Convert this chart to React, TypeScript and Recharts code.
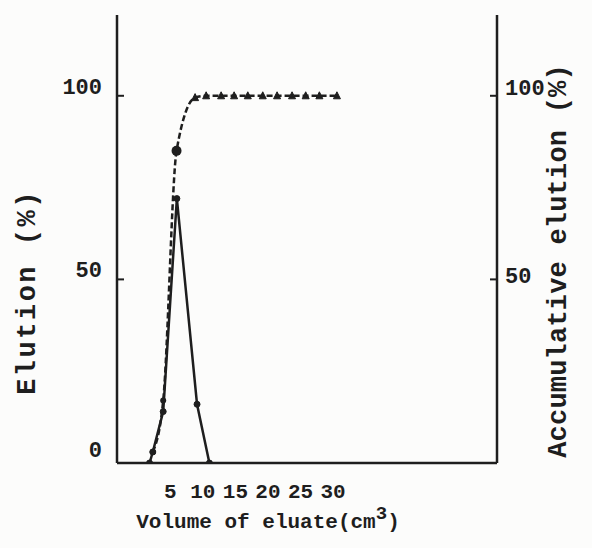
import { LineChart, Line, XAxis, YAxis, Label } from "recharts";

// values (volume in cm3, elution in %)
const elutionVolume = [1.8, 2.3, 3.9, 6.0, 9.1, 11.0];
const elutionPct = [0, 3, 14, 72, 16, 0];

const cumVolume = [2.3, 3.9, 5.95, 8.8, 10.5, 12.8, 14.8, 16.9, 19.2, 21.4, 23.7, 25.8, 27.9, 30.6];
const cumPct = [3, 17, 85, 99.5, 100, 100, 100, 100, 100, 100, 100, 100, 100, 100];

const xTicks = [5, 10, 15, 20, 25, 30];
const leftTicks = [0, 50, 100];
const rightTicks = [50, 100];

const INK = "#1e1e1e";
const FONT = "'Liberation Mono', 'DejaVu Sans Mono', monospace";

const elution = elutionVolume.map((x, i) => ({ x, y: elutionPct[i] }));
const cumulative = cumVolume.map((x, i) => ({ x, y: cumPct[i] }));

function LeftTick({ x, y, payload }: any) {
  return (
    <g>
      {payload.value !== 0 && (
        <line x1={x + 15} x2={x + 22} y1={y} y2={y} stroke={INK} strokeWidth={2} />
      )}
      <text x={x} y={y} dy={payload.value === 0 ? -6 : -2} textAnchor="end" fill={INK}
        fontFamily={FONT} fontWeight="bold" fontSize={22}>
        {payload.value}
      </text>
    </g>
  );
}

function RightTick({ x, y, payload }: any) {
  return (
    <g>
      <line x1={x - 15} x2={x - 8} y1={y} y2={y} stroke={INK} strokeWidth={2} />
      <text x={x} y={y} dy={payload.value === 100 ? -1 : 4} textAnchor="start" fill={INK}
        fontFamily={FONT} fontWeight="bold" fontSize={22}>
        {payload.value}
      </text>
    </g>
  );
}

function CumDot({ cx, cy, index }: any) {
  if (index < 3) {
    const r = index === 2 ? 5 : 3;
    return <circle key={index} cx={cx} cy={cy} r={r} fill={INK} />;
  }
  return (
    <path key={index} d={`M${cx},${cy - 4} L${cx + 3.5},${cy + 3} L${cx - 3.5},${cy + 3} Z`}
      fill={INK} stroke={INK} strokeWidth={1} />
  );
}

export default function App() {
  return (
    <div style={{ position: "fixed", left: 0, top: 0, width: 592, height: 548, background: "#fcfcfb" }}>
      <LineChart width={592} height={548} margin={{ top: 15, right: 15, left: 57, bottom: 5 }}>
        <XAxis
          type="number"
          dataKey="x"
          domain={[-3.2, 55.2]}
          ticks={xTicks}
          allowDataOverflow
          tickLine={false}
          tickSize={0}
          tickMargin={20}
          axisLine={{ stroke: INK, strokeWidth: 2.5 }}
          tick={{ fill: INK, fontFamily: FONT, fontWeight: "bold", fontSize: 21 }}
          height={80}
        >
          <Label
            content={() => (
              <text x={268} y={528} textAnchor="middle" fill={INK} fontFamily={FONT}
                fontWeight="bold" fontSize={21}>
                Volume of eluate(cm<tspan dy={-9} fontSize={19}>3</tspan><tspan dy={9}>)</tspan>
              </text>
            )}
          />
        </XAxis>
        <YAxis
          yAxisId="left"
          domain={[0, 122]}
          ticks={leftTicks}
          allowDataOverflow
          width={60}
          tickLine={false}
          tickSize={0}
          tickMargin={15}
          axisLine={{ stroke: INK, strokeWidth: 2.5 }}
          tick={<LeftTick />}
        >
          <Label
            content={() => (
              <text transform="translate(35,292) rotate(-90)" textAnchor="middle" fill={INK}
                fontFamily={FONT} fontWeight="bold" fontSize={27} letterSpacing={2.5}>
                Elution (%)
              </text>
            )}
          />
        </YAxis>
        <YAxis
          yAxisId="right"
          orientation="right"
          domain={[0, 122]}
          ticks={rightTicks}
          allowDataOverflow
          width={80}
          tickLine={false}
          tickSize={0}
          tickMargin={8}
          axisLine={{ stroke: INK, strokeWidth: 2.5 }}
          tick={<RightTick />}
        >
          <Label
            content={() => (
              <text transform="translate(566,261) rotate(-90)" textAnchor="middle" fill={INK}
                fontFamily={FONT} fontWeight="bold" fontSize={27} letterSpacing={0.2}>
                Accumulative elution (%)
              </text>
            )}
          />
        </YAxis>
        <Line
          yAxisId="left"
          data={elution}
          dataKey="y"
          type="linear"
          stroke={INK}
          strokeWidth={2.5}
          dot={{ r: 3, fill: INK, stroke: INK, strokeWidth: 1 }}
          activeDot={false}
          isAnimationActive={false}
        />
        <Line
          yAxisId="right"
          data={cumulative}
          dataKey="y"
          type="monotone"
          stroke={INK}
          strokeWidth={2.5}
          strokeDasharray="6 3"
          dot={<CumDot />}
          activeDot={false}
          isAnimationActive={false}
        />
      </LineChart>
    </div>
  );
}
